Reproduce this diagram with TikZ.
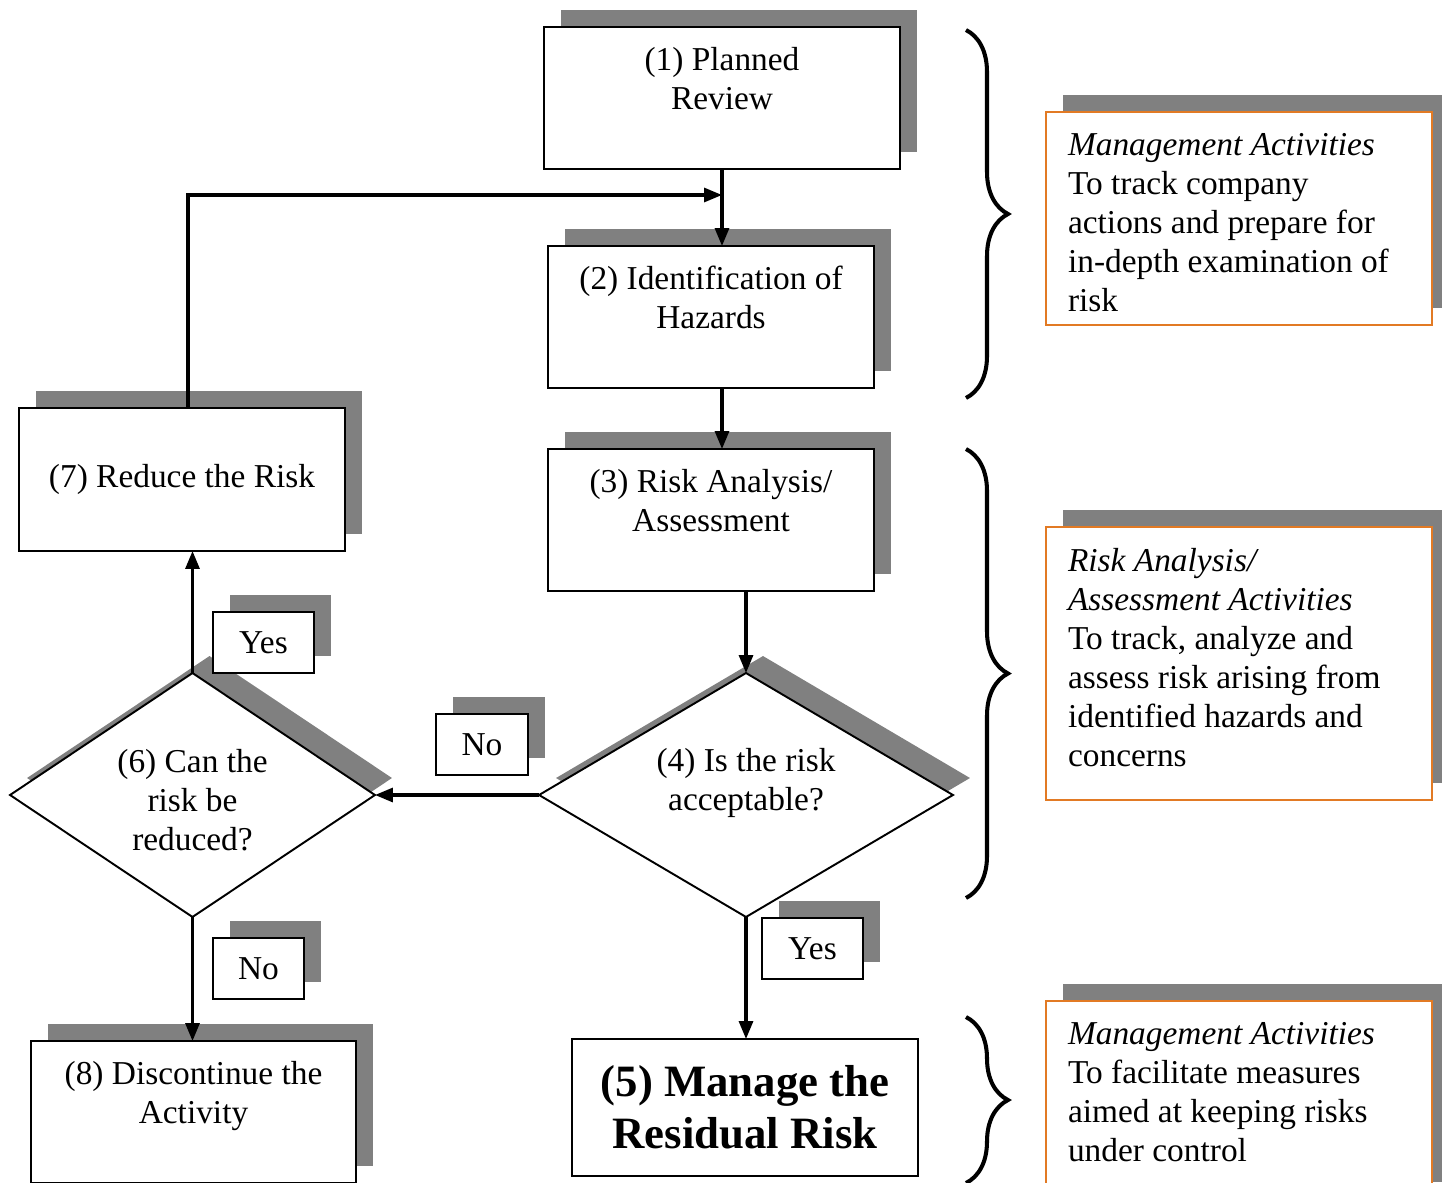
\documentclass[tikz,border=0pt]{standalone}
\usepackage{fontspec}
\setmainfont{Liberation Serif}
\usetikzlibrary{shapes.geometric,shadows,arrows.meta,decorations.pathreplacing}
\definecolor{rmgray}{RGB}{128,128,128}
\definecolor{rmorange}{RGB}{226,122,36}

\tikzset{
  castshadow/.style={drop shadow={shadow xshift=0.34cm, shadow yshift=0.34cm, fill=rmgray, opacity=1}},
  stepbox/.style={draw, line width=1.1pt, fill=white, align=center, inner sep=0pt, outer sep=0pt,
    font=\fontsize{19}{22.2}\selectfont, castshadow},
  decision/.style={stepbox, diamond, aspect=1.7, minimum width=8.28cm, minimum height=4.88cm},
  answer/.style={stepbox, minimum width=2.02cm, minimum height=1.22cm},
  finalbox/.style={draw, line width=1.4pt, fill=white, align=center, inner sep=0pt, outer sep=0pt,
    font=\fontsize{25.5}{29.5}\selectfont\bfseries},
  notebox/.style={draw=rmorange, line width=1.1pt, fill=white, inner xsep=0.44cm, inner ysep=0.42cm,
    outer sep=0pt, font=\fontsize{19}{22.2}\selectfont, castshadow},
  flow/.style={line width=1.8pt, -{Triangle[length=0.36cm, width=0.28cm]}},
  groupbrace/.style={decorate, decoration={brace, amplitude=0.84cm}, line width=2.3pt}
}

\begin{document}
\begin{tikzpicture}[x=0.02cm, y=-0.02cm]
\useasboundingbox (0,0) rectangle (1442,1182);

% Review and identification
\node[stepbox, minimum width=7.12cm, minimum height=2.84cm] (review) at (722,98) {(1) Planned\\Review\\\mbox{}};
\node[stepbox, minimum width=6.52cm, minimum height=2.84cm] (hazards) at (711,317) {(2) Identification of\\Hazards\\\mbox{}};
\node[stepbox, minimum width=6.52cm, minimum height=2.84cm] (analysis) at (711,520) {(3) Risk Analysis/\\Assessment\\\mbox{}};

% Decisions
\node[decision] (accept) at (746,795) {(4) Is the risk\\acceptable?\\[-4.5pt]\mbox{}};
\node[decision, minimum width=7.3cm] (canreduce) at (192.5,795) {\mbox{}\\[-3pt](6) Can the\\risk be\\reduced?};

% Outcomes
\node[stepbox, minimum width=6.52cm, minimum height=2.86cm] (reduce) at (182,479.5) {(7) Reduce the Risk};
\node[stepbox, minimum width=6.5cm, minimum height=2.84cm] (stop) at (193.5,1112) {(8) Discontinue the\\Activity\\\mbox{}};
\node[finalbox, minimum width=6.92cm, minimum height=2.74cm] (residual) at (745,1107.5) {(5) Manage the\\Residual Risk};

% Answers
\node[answer] (yesreduce) at (263.5,642.5) {Yes};
\node[answer, minimum width=1.84cm] (noaccept) at (482,744.5) {No};
\node[answer, minimum width=1.82cm] (noreduce) at (258.5,968.5) {No};
\node[answer] (yesaccept) at (812.5,948.5) {Yes};

% Notes
\node[notebox] (mgmtnote) at (1239,218.5) {\parbox[c][3.42cm][t]{6.84cm}{\raggedright
  \textit{Management Activities}\\To track company\\actions and prepare for\\in-depth examination of\\risk}};
\node[notebox] (assessnote) at (1239,663.5) {\parbox[c][4.62cm][t]{6.84cm}{\raggedright
  \textit{Risk Analysis/}\\\textit{Assessment Activities}\\To track, analyze and\\assess risk arising from\\identified hazards and\\concerns}};
\node[notebox] (controlnote) at (1239,1100) {\parbox[c][3.12cm][t]{6.84cm}{\raggedright
  \textit{Management Activities}\\To facilitate measures\\aimed at keeping risks\\under control}};

% Braces
\draw[groupbrace] (966,30) -- (966,398);
\draw[groupbrace] (966,449) -- (966,898);
\draw[groupbrace] (966,1017) -- (966,1183);

% Connectors
\coordinate (merge) at (722,195);
\draw[flow] (review.south) -- (hazards.north -| review.south);
\draw[flow] ([xshift=0.12cm]reduce.north) |- (merge);
\draw[flow] (hazards.south -| review.south) -- (analysis.north -| review.south);
\draw[flow] (analysis.south -| accept.north) -- (accept.north);
\draw[flow] (accept.west) -- (canreduce.east);
\draw[flow] (canreduce.north) -- (reduce.south -| canreduce.north);
\draw[flow] (canreduce.south) -- (stop.north -| canreduce.south);
\draw[flow] (accept.south) -- (residual.north -| accept.south);
\end{tikzpicture}
\end{document}
